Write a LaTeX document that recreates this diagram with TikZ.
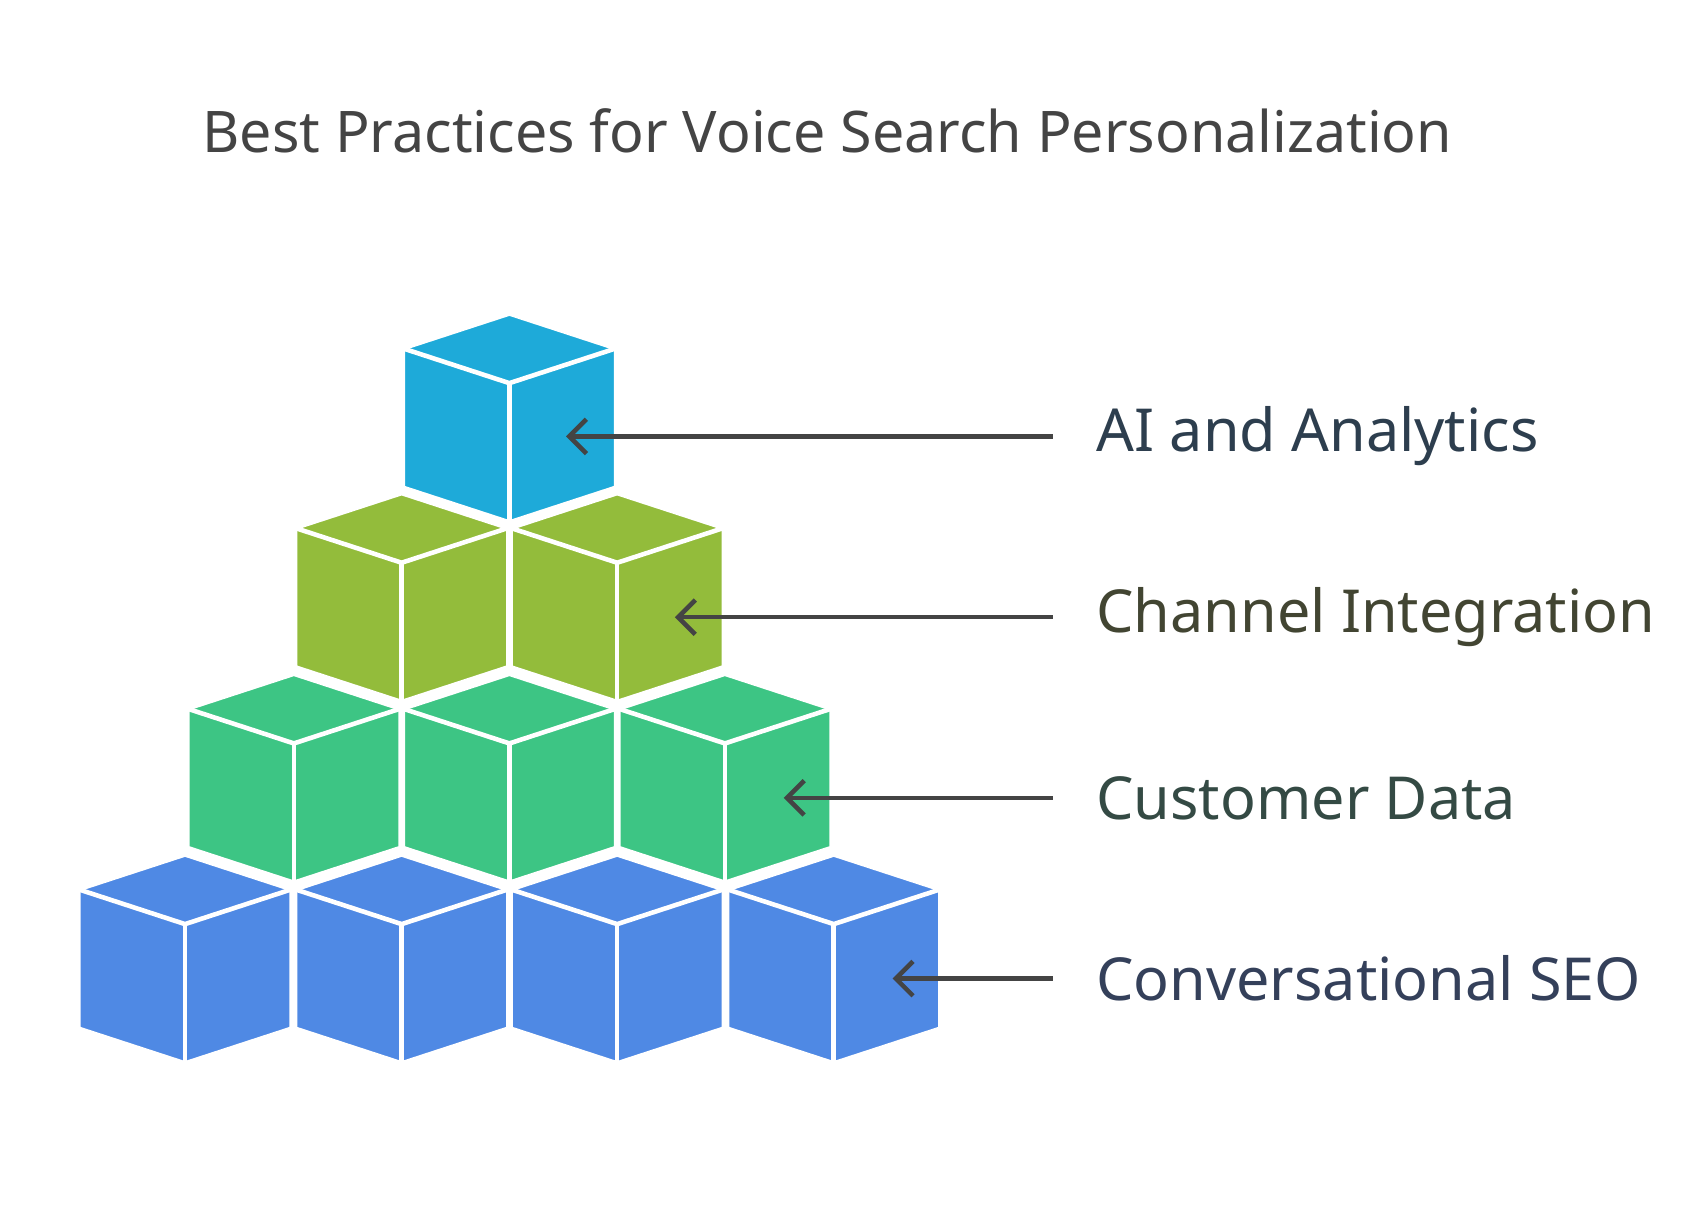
\documentclass[tikz,border=0pt]{standalone}
\usepackage{fontspec}
\setmainfont{Noto Sans}
\usetikzlibrary{arrows.meta}
\definecolor{topblue}{HTML}{1EAAD9}
\definecolor{lime}{HTML}{93BC3B}
\definecolor{mint}{HTML}{3DC584}
\definecolor{royal}{HTML}{4F89E4}
\definecolor{ink}{HTML}{444444}
\definecolor{aitext}{HTML}{2D3E4E}
\definecolor{chtext}{HTML}{424532}
\definecolor{cutext}{HTML}{344A44}
\definecolor{seotext}{HTML}{34405A}
% one cube: top vertex at (#1,#2)
\newcommand{\blockcube}[3]{%
  \filldraw[cube, fill=#3] (#1,-#2) -- ++(98,-32) -- ++(0,-128) -- ++(-98,-32)
    -- ++(-98,32) -- ++(0,128) -- cycle;
  \draw[cube] (#1-98,-#2-32) -- (#1,-#2-64) -- (#1+98,-#2-32);
  \draw[cube] (#1,-#2-64) -- (#1,-#2-192);
}
\begin{document}
\begin{tikzpicture}[x=0.02cm, y=0.02cm,
    cube/.style={draw=white, line width=2.4pt, line join=round},
    pointer/.style={draw=ink, line width=2.4pt, {Straight Barb[length=9pt,width=18pt,line width=2.4pt]}-},
    label/.style={anchor=west, inner xsep=0.8cm, inner ysep=0pt, font=\fontsize{31}{36}\selectfont}
]
    \useasboundingbox (0,0) rectangle (1560,-1113);
    \node[font=\fontsize{30}{36}\selectfont, text=ink] (title) at (760,-120) {Best Practices for Voice Search Personalization};
    % bottom row first, upper rows on top
    \foreach \cx in {170,369,567,766} {\blockcube{\cx}{785}{royal}}
    \foreach \cx in {270,468,666} {\blockcube{\cx}{619}{mint}}
    \foreach \cx in {369,567} {\blockcube{\cx}{453}{lime}}
    \blockcube{468}{288}{topblue}
    \coordinate (tip1) at (520,-401);
    \coordinate (tip2) at (620,-567);
    \coordinate (tip3) at (720,-733);
    \coordinate (tip4) at (820,-899);
    \node[label, text=aitext] (ai) at (967,-401) {AI and Analytics};
    \node[label, text=chtext] (channel) at (967,-567) {Channel Integration};
    \node[label, text=cutext] (customer) at (967,-733) {Customer Data};
    \node[label, text=seotext] (seo) at (967,-899) {Conversational SEO};
    \draw[pointer] (tip1) -- (ai.west);
    \draw[pointer] (tip2) -- (channel.west);
    \draw[pointer] (tip3) -- (customer.west);
    \draw[pointer] (tip4) -- (seo.west);
\end{tikzpicture}
\end{document}
